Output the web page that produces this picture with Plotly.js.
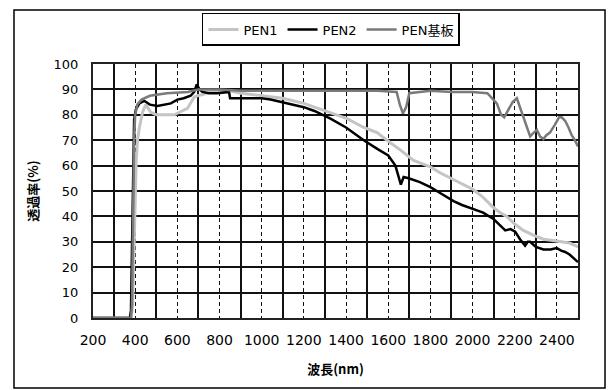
<!DOCTYPE html>
<html>
<head>
<meta charset="utf-8">
<script src="https://cdn.plot.ly/plotly-3.0.1.min.js"></script>
<style>html,body{margin:0;padding:0;background:#fff;}#chart{width:609px;height:390px;}</style>
</head>
<body>
<div id="chart"></div>
<script>
// Wavelength (nm) and transmittance (%)
const pen1X = [200,380,388,395,400,405,411,420,435,450,474,500,553,585,610,648,680,695,720,758,800,850,900,1000,1100,1200,1300,1405,1484,1547,1610,1660,1720,1800,1850,1910,1960,2005,2050,2099,2130,2162,2200,2241,2290,2336,2380,2431,2460,2500];
const pen1Y = [0,0,5,30,50,62,70,75,81,84,81,80,80,80,81,82.5,87,87.5,88,89,89.5,89.5,88.5,87.5,86.5,84.5,81.5,78.5,75,73,69,66,62,59.5,57,54.5,52.5,50.5,47.5,43.5,41.5,40,37,34.5,32.5,31,30.5,30,29.5,28];

const pen2X = [200,375,380,385,390,395,403,420,443,470,506,540,569,600,630,663,680,692,705,719,750,790,837,845,850,900,1000,1042,1100,1200,1250,1326,1400,1484,1550,1600,1634,1650,1660,1673,1697,1750,1800,1850,1910,1950,2005,2050,2099,2130,2155,2180,2202,2225,2249,2262,2273,2300,2336,2370,2399,2420,2439,2460,2480,2500];
const pen2Y = [0,0,3,30,60,78,82,84.5,85.5,84,83.5,84,84.5,86,86.5,87.5,89,92,90,89,88.5,88.5,89,89,86.5,86.5,86.5,86,85,83,81.5,78.5,75,70,66.5,64,60,55,52.5,55.5,55,53.5,51.5,49,46,44.5,43,41.5,39,36.5,34.5,35,34,31,28.5,30,30,28,27,27,27.5,26.5,26,25,23.5,22];

const subX = [200,380,385,390,395,400,410,430,470,550,650,700,800,900,1000,1200,1400,1550,1640,1655,1670,1685,1700,1800,1900,2000,2070,2100,2115,2135,2150,2170,2190,2210,2225,2240,2255,2273,2290,2305,2320,2336,2350,2367,2390,2410,2423,2440,2455,2470,2485,2500];
const subY = [0,0,5,40,70,80,84,86,87.5,88.5,89,90,90,89.5,89.5,89.5,89.5,89.5,89,84,80.5,83,88.5,89.5,89,89,88.5,86,84.5,80,79,82,85,86.5,83,79,76,71.5,73,74,71.5,70.5,72,73,76,79,79,77.5,75,72,70,67.5];

const seriesNames = ['PEN1','PEN2','PEN基板'];
const xTickStart = 200, xTickStep = 200, xMinorStep = 100;
const yTickStart = 0, yTickStep = 10;

const traces = [
  {x: pen1X, y: pen1Y, name: seriesNames[0], mode: 'lines', line: {color: '#c4c4c4', width: 3}},
  {x: pen2X, y: pen2Y, name: seriesNames[1], mode: 'lines', line: {color: '#000000', width: 2.5}},
  {x: subX, y: subY, name: seriesNames[2], mode: 'lines', line: {color: '#7a7a7a', width: 2.5}}
];

const fontFam = 'DejaVu Sans, "Noto Sans CJK JP", sans-serif';
const layout = {
  width: 609, height: 390,
  margin: {l: 93, r: 31, t: 64, b: 72},
  paper_bgcolor: '#ffffff', plot_bgcolor: '#ffffff',
  font: {family: fontFam, color: '#000', size: 13},
  showlegend: true,
  legend: {
    orientation: 'h', x: 0.2247, xanchor: 'left', y: 1.2008, yanchor: 'top',
    bordercolor: '#000', borderwidth: 1.5, bgcolor: '#fff',
    font: {family: fontFam, size: 13, color: '#000'},
    traceorder: 'normal', itemwidth: 30
  },
  xaxis: {
    range: [200, 2500], tickmode: 'linear', tick0: xTickStart, dtick: xTickStep,
    showgrid: true, gridcolor: '#111', gridwidth: 1, griddash: '4px,3px',
    minor: {tickmode: 'linear', tick0: xTickStart, dtick: xMinorStep, showgrid: true, gridcolor: '#111', gridwidth: 2, griddash: 'solid', ticks: ''},
    showline: true, linecolor: '#222', linewidth: 2, mirror: true,
    ticks: '', zeroline: false, ticklabelstandoff: 8,
    tickfont: {family: fontFam, size: 14, color: '#000'},
    title: {text: '<b>波長(nm)</b>', font: {family: '"Noto Sans CJK JP", sans-serif', size: 13, color: '#000'}, standoff: 18}
  },
  yaxis: {
    range: [0, 100], tickmode: 'linear', tick0: yTickStart, dtick: yTickStep,
    showgrid: true, gridcolor: '#111', gridwidth: 2,
    showline: true, linecolor: '#222', linewidth: 2, mirror: true,
    ticks: '', zeroline: false, ticklabelstandoff: 10,
    tickfont: {family: fontFam, size: 13, color: '#000'},
    title: {text: '<b>透過率(%)</b>', font: {family: '"Noto Sans CJK JP", sans-serif', size: 13, color: '#000'}, standoff: 12}
  },
  shapes: [
    {type: 'rect', xref: 'paper', yref: 'paper', x0: -0.1629, x1: 1.0557, y0: -0.2756, y1: 1.2126,
     line: {color: '#000', width: 1.5}, fillcolor: 'rgba(0,0,0,0)', layer: 'below'}
  ]
};

Plotly.newPlot('chart', traces, layout, {staticPlot: true, displayModeBar: false});
</script>
</body>
</html>
